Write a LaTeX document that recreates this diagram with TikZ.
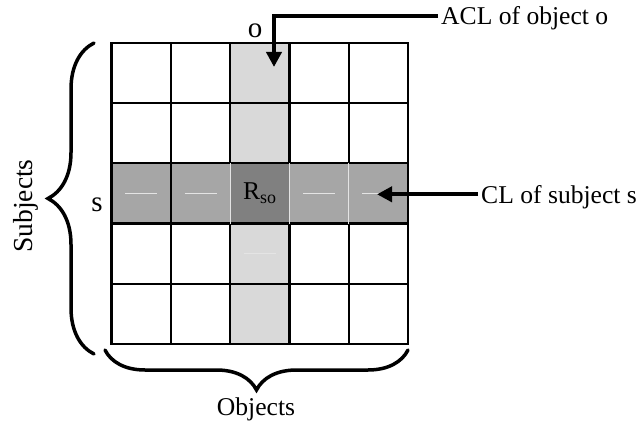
\documentclass[tikz,border=0pt]{standalone}
\usepackage{fontspec}
\setmainfont{Liberation Serif}
\usetikzlibrary{arrows.meta,decorations.pathreplacing}

\definecolor{aclgray}{HTML}{D9D9D9}
\definecolor{clgray}{HTML}{A6A6A6}
\definecolor{rsogray}{HTML}{808080}
\definecolor{faintline}{HTML}{E4E4E4}

\tikzset{
    cell/.style={minimum width=59.3pt, minimum height=60.3pt, inner sep=0pt, outer sep=0pt},
    gridline/.style={line width=2.3pt, line cap=rect},
    faint/.style={faintline, line width=0.8pt},
    pointer/.style={line width=4pt, -{Triangle[length=15pt,width=15pt]}},
    bracket/.style={line width=3.5pt, line cap=round, decorate, decoration={brace, amplitude=#1}},
    txt/.style={font=\fontsize{25.6}{30}\selectfont, inner sep=3pt},
    bigtxt/.style={font=\fontsize{29}{32}\selectfont, inner sep=3pt},
}

\begin{document}
\begin{tikzpicture}[x=1pt, y=-1pt]
    \useasboundingbox (0,0) rectangle (643,425);

    % Access matrix cells (column 2 = object o, row 2 = subject s)
    \foreach \r in {0,...,4}{
        \foreach \c in {0,...,4}{
            \def\shade{white}
            \ifnum\c=2 \def\shade{aclgray}\fi
            \ifnum\r=2 \def\shade{clgray}\ifnum\c=2 \def\shade{rsogray}\fi\fi
            \node[cell, fill=\shade] (c-\r-\c) at ({141.25+59.3*\c}, {72.85+60.3*\r}) {};
        }
    }

    % faint marks inside some cells
    \foreach \c in {0,1,3,4}
        \draw[faint] ([xshift=-16pt]c-2-\c.center) -- ([xshift=16pt]c-2-\c.center);
    \draw[faint] ([xshift=-16pt]c-3-2.center) -- ([xshift=16pt]c-3-2.center);

    % Grid lines
    \foreach \r in {0,...,4}
        \draw[gridline] (c-\r-0.north west) -- (c-\r-4.north east);
    \draw[gridline] (c-4-0.south west) -- (c-4-4.south east);
    \foreach \c in {0,1}
        \draw[gridline] (c-0-\c.north west) -- (c-4-\c.south west);
    \foreach \c in {2,3,4}{
        \draw[gridline] (c-0-\c.north west) -- (c-1-\c.south west);
        \draw[gridline] (c-3-\c.north west) -- (c-4-\c.south west);
        \draw[faint] (c-2-\c.north west) -- (c-2-\c.south west);
    }
    \draw[gridline] (c-0-4.north east) -- (c-4-4.south east);

    \node[txt] (rso) at (c-2-2.center) {R\textsubscript{so}};

    % Labels of row and column
    \node[bigtxt] (olabel) at (255,31) {o};
    \node[bigtxt] (slabel) at (97,205) {s};

    % Braces
    \draw[bracket=46pt] (94,354) -- (94,43);
    \node[txt, font=\fontsize{27.5}{30}\selectfont, rotate=90] (subjects) at (26,206) {Subjects};
    \draw[bracket=40pt] (408,350) -- (105,350);
    \node[txt] (objects) at (256,409) {Objects};

    % ACL pointer
    \node[txt, anchor=base west] (acl) at (438,25) {ACL of object o};
    \coordinate (acltip) at (274,67);
    \draw[pointer] ([yshift=9pt]acl.base west) -| (acltip);

    % CL pointer
    \node[txt, anchor=base west] (cl) at (478,203.3) {CL of subject s};
    \coordinate (cltip) at (377,194.3);
    \draw[pointer] ([yshift=9pt]cl.base west) -- (cltip);
\end{tikzpicture}
\end{document}
